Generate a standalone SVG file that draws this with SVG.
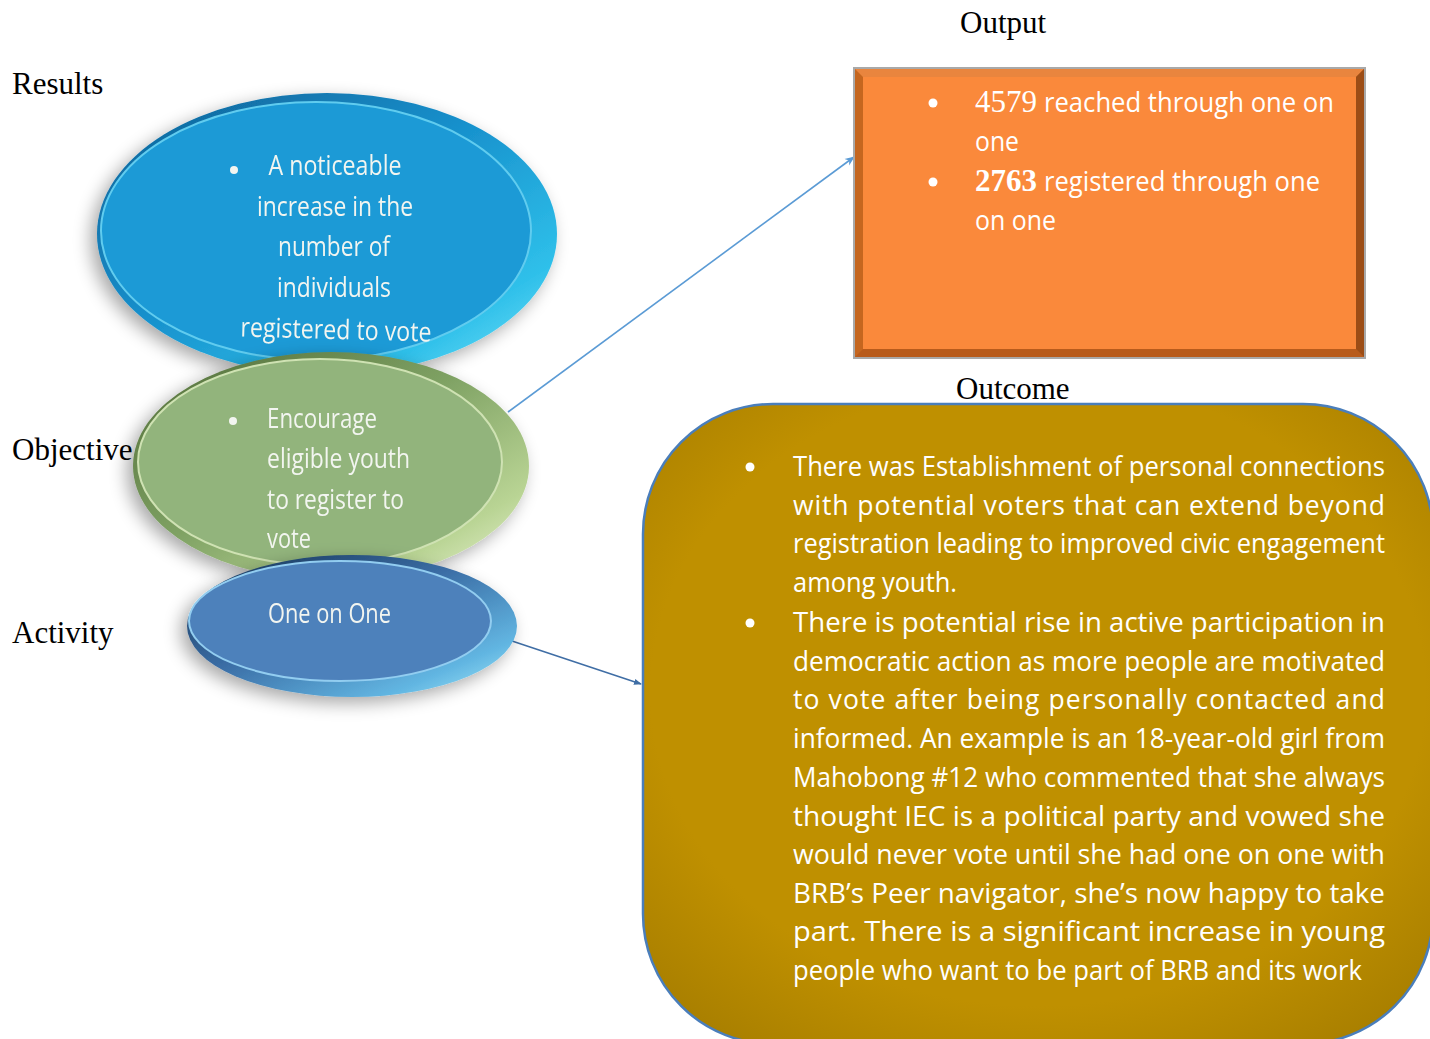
<svg xmlns="http://www.w3.org/2000/svg" width="1430" height="1039" viewBox="0 0 1430 1039">
<defs>
<style>
.lbl{font-family:"Liberation Serif","Times New Roman",serif;font-size:31px;fill:#000}
.cal{font-family:"Open Sans","Noto Sans",sans-serif;fill:#fff}
.ell{font-size:27px;fill:#f2f5f0}
.box{font-size:26.5px}
.out{font-size:27px}
.num{font-family:"Liberation Serif","Times New Roman",serif;font-size:31px;fill:#fff}
.conn{fill:none;stroke-width:1.6}
</style>
<filter id="sh" x="-20%" y="-20%" width="140%" height="140%">
<feGaussianBlur in="SourceAlpha" stdDeviation="9"/>
<feOffset dx="-6" dy="6"/>
<feComponentTransfer><feFuncA type="linear" slope="0.35"/></feComponentTransfer>
<feMerge><feMergeNode/><feMergeNode in="SourceGraphic"/></feMerge>
</filter>
<linearGradient id="gBlue" x1="0" y1="0" x2="1" y2="1">
<stop offset="0" stop-color="#0e5f94"/>
<stop offset="0.45" stop-color="#1790cc"/>
<stop offset="0.8" stop-color="#2fc0ea"/>
<stop offset="1" stop-color="#7fe6fa"/>
</linearGradient>
<linearGradient id="gGreen" x1="0" y1="0" x2="1" y2="1">
<stop offset="0" stop-color="#506b37"/>
<stop offset="0.45" stop-color="#7ea163"/>
<stop offset="0.8" stop-color="#b9d494"/>
<stop offset="1" stop-color="#eef6d8"/>
</linearGradient>
<linearGradient id="gDark" x1="0" y1="0" x2="1" y2="1">
<stop offset="0" stop-color="#14304f"/>
<stop offset="0.45" stop-color="#3b6ea6"/>
<stop offset="0.8" stop-color="#62b6e2"/>
<stop offset="1" stop-color="#a8eefb"/>
</linearGradient>
<radialGradient id="gOut" cx="0.5" cy="0.45" r="0.7">
<stop offset="0.7" stop-color="#bf9000"/>
<stop offset="1" stop-color="#a67d00"/>
</radialGradient>
<marker id="ah" markerWidth="10" markerHeight="10" refX="9" refY="5" orient="auto" markerUnits="userSpaceOnUse">
<path d="M0,1 L10,5 L0,9 L3,5 Z" fill="#5b9bd5"/>
</marker>
<marker id="ah2" markerWidth="8" markerHeight="8" refX="7" refY="4" orient="auto" markerUnits="userSpaceOnUse">
<path d="M0,1 L8,4 L0,7 Z" fill="#3f6ea5"/>
</marker>
</defs>
<rect width="1430" height="1039" fill="#fff"/>

<g id="labels">
<text class="lbl" x="12" y="94">Results</text>
<text class="lbl" x="12" y="460">Objective</text>
<text class="lbl" x="12" y="643">Activity</text>
<text class="lbl" x="960" y="33">Output</text>
<text class="lbl" x="956" y="399">Outcome</text>
</g>

<g id="connectors">
<line class="conn" x1="508" y1="412" x2="854" y2="157" stroke="#5b9bd5" marker-end="url(#ah)"/>
<line class="conn" x1="512" y1="641" x2="641" y2="684" stroke="#3f6ea5" marker-end="url(#ah2)"/>
</g>

<g id="results" filter="url(#sh)">
<ellipse cx="327" cy="234" rx="230" ry="141" fill="url(#gBlue)"/>
<ellipse cx="316" cy="231" rx="215" ry="129" fill="#1b9ad6" stroke="#61ccef" stroke-width="2"/>
<g class="cal ell" text-anchor="middle">
<circle cx="234" cy="170" r="4" fill="#f2f5f0"/>
<text x="335" y="175" textLength="133" lengthAdjust="spacingAndGlyphs">A noticeable</text>
<text x="335" y="216" textLength="156" lengthAdjust="spacingAndGlyphs">increase in the</text>
<text x="334" y="256" textLength="112" lengthAdjust="spacingAndGlyphs">number of</text>
<text x="334" y="297" textLength="114" lengthAdjust="spacingAndGlyphs">individuals</text>
<text x="336" y="339" textLength="191" lengthAdjust="spacingAndGlyphs" transform="rotate(1.5 336 330)">registered to vote</text>
</g>
</g>

<g id="objective" filter="url(#sh)">
<ellipse cx="331" cy="466" rx="198" ry="114" fill="url(#gGreen)"/>
<ellipse cx="320" cy="462" rx="182" ry="103" fill="#92b47b" stroke="#cfe2b3" stroke-width="2"/>
<g class="cal ell">
<circle cx="233" cy="421" r="4" fill="#f2f5f0"/>
<text x="267" y="428" textLength="110" lengthAdjust="spacingAndGlyphs">Encourage</text>
<text x="267" y="468" textLength="143" lengthAdjust="spacingAndGlyphs">eligible youth</text>
<text x="267" y="509" textLength="137" lengthAdjust="spacingAndGlyphs">to register to</text>
<text x="267" y="548" textLength="44" lengthAdjust="spacingAndGlyphs">vote</text>
</g>
</g>

<g id="activity" filter="url(#sh)">
<ellipse cx="352" cy="626" rx="165" ry="71" fill="url(#gDark)"/>
<ellipse cx="340" cy="621" rx="151" ry="60" fill="#4e81bb" stroke="#92cdf0" stroke-width="2"/>
<text class="cal ell" x="268" y="623" textLength="123" lengthAdjust="spacingAndGlyphs">One on One</text>
</g>

<g id="output">
<rect x="854" y="68" width="511" height="290" fill="#c5661f" stroke="#a9a9a9" stroke-width="2"/>
<path d="M855,69 L1364,69 L1356,77 L863,77 Z" fill="#e9853e"/>
<path d="M855,357 L1364,357 L1356,349 L863,349 Z" fill="#b85b1b"/>
<path d="M1364,69 L1364,357 L1356,349 L1356,77 Z" fill="#9c4d16"/>
<rect x="863" y="77" width="493" height="272" fill="#fa893b"/>
<g>
<circle cx="933" cy="103" r="4.5" fill="#fff"/>
<circle cx="933" cy="182" r="4.5" fill="#fff"/>
<text class="num" x="975" y="112" textLength="62" lengthAdjust="spacingAndGlyphs">4579</text>
<text class="cal out" x="1044" y="112" textLength="290" lengthAdjust="spacingAndGlyphs">reached through one on</text>
<text class="cal out" x="975" y="151" textLength="44" lengthAdjust="spacingAndGlyphs">one</text>
<text class="num" x="975" y="191" font-weight="bold" textLength="62" lengthAdjust="spacingAndGlyphs">2763</text>
<text class="cal out" x="1044" y="191" textLength="276" lengthAdjust="spacingAndGlyphs">registered through one</text>
<text class="cal out" x="975" y="230" textLength="81" lengthAdjust="spacingAndGlyphs">on one</text>
</g>
</g>

<g id="outcome">
<rect x="643" y="404" width="790" height="640" rx="130" ry="130" fill="url(#gOut)" stroke="#4a7ebb" stroke-width="2.5"/>
<g class="cal box">
<circle cx="750" cy="467" r="4.5" fill="#fff"/>
<circle cx="750" cy="623" r="4.5" fill="#fff"/>
<text x="793" y="476" textLength="592" lengthAdjust="spacingAndGlyphs">There was Establishment of personal connections</text>
<text x="793" y="515" textLength="592" lengthAdjust="spacing">with potential voters that can extend beyond</text>
<text x="793" y="553" textLength="592" lengthAdjust="spacingAndGlyphs">registration leading to improved civic engagement</text>
<text x="793" y="592" textLength="164" lengthAdjust="spacingAndGlyphs">among youth.</text>
<text x="793" y="632" textLength="592" lengthAdjust="spacingAndGlyphs">There is potential rise in active participation in</text>
<text x="793" y="671" textLength="592" lengthAdjust="spacingAndGlyphs">democratic action as more people are motivated</text>
<text x="793" y="709" textLength="592" lengthAdjust="spacing">to vote after being personally contacted and</text>
<text x="793" y="748" textLength="592" lengthAdjust="spacingAndGlyphs">informed. An example is an 18-year-old girl from</text>
<text x="793" y="787" textLength="592" lengthAdjust="spacingAndGlyphs">Mahobong #12 who commented that she always</text>
<text x="793" y="826" textLength="592" lengthAdjust="spacingAndGlyphs">thought IEC is a political party and vowed she</text>
<text x="793" y="864" textLength="592" lengthAdjust="spacingAndGlyphs">would never vote until she had one on one with</text>
<text x="793" y="903" textLength="592" lengthAdjust="spacingAndGlyphs">BRB’s Peer navigator, she’s now happy to take</text>
<text x="793" y="941" textLength="592" lengthAdjust="spacingAndGlyphs">part. There is a significant increase in young</text>
<text x="793" y="980" textLength="569" lengthAdjust="spacingAndGlyphs">people who want to be part of BRB and its work</text>
</g>
</g>
</svg>
